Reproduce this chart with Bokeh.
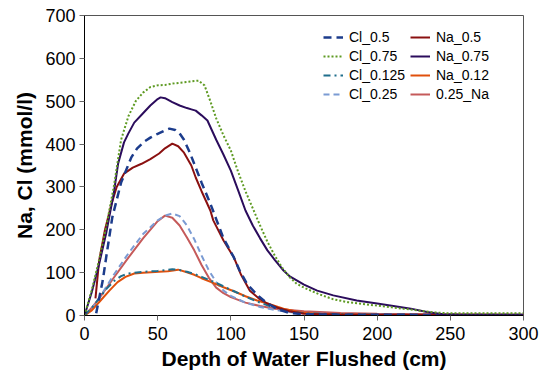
from bokeh.plotting import figure
from bokeh.models import Legend, LegendItem, FixedTicker, Range1d
from bokeh.embed import file_html
from bokeh.resources import INLINE

# ---- data ----
cl_075_x = [0, 5, 10, 15, 20, 25, 30, 35, 40, 45, 50, 55, 60, 65, 70, 75, 78, 82, 86, 90, 95, 100, 105, 110, 115, 120, 125, 130, 135, 140, 145, 150, 160, 170, 180, 190, 200, 210, 220, 230, 240, 250, 275, 300]
cl_075_y = [0, 60, 130, 210, 300, 410, 465, 500, 520, 533, 537, 538, 541, 543, 545, 547, 548, 537, 500, 460, 420, 385, 335, 290, 250, 210, 172, 140, 112, 90, 74, 65, 50, 38, 31, 27, 23, 19, 15, 11, 7, 5, 5, 5]

na_075_x = [0, 5, 10, 15, 20, 23, 27, 30, 34, 40, 45, 50, 52, 55, 60, 65, 70, 73, 76, 80, 84, 90, 95, 100, 105, 110, 115, 120, 125, 130, 136, 140, 150, 159, 170, 186, 200, 210, 223, 234, 245, 260, 300]
na_075_y = [0, 55, 120, 195, 285, 355, 404, 425, 450, 472, 490, 505, 509, 507, 498, 490, 484, 481, 478, 467, 455, 410, 375, 338, 292, 245, 210, 180, 152, 130, 105, 92, 72, 58, 47, 35, 28, 23, 16, 8, 3, 2, 2]

cl_05_x = [8, 10, 12.5, 15, 19, 25, 32, 36, 41, 45, 50, 55, 58, 62, 65, 68, 72, 76, 80, 86, 90, 95, 102, 106, 111, 118, 125, 132, 140, 150, 175, 200, 250, 300]
cl_05_y = [5, 40, 82, 140, 229, 310, 369, 390, 406, 415, 424, 432, 436, 433, 425, 410, 380, 345, 310, 261, 225, 180, 136, 105, 74, 48, 28, 15, 6, 3, 2, 2, 1, 1]

na_05_x = [7.5, 10, 14, 18.5, 22, 27, 33, 39, 45, 51, 55, 60, 64, 68, 73, 76, 80, 86, 88, 95, 102, 107, 113, 119, 125, 132, 140, 150, 175, 200, 250, 300]
na_05_y = [40, 128, 200, 261, 300, 331, 345, 354, 365, 378, 390, 401, 395, 380, 350, 322, 290, 245, 222, 175, 136, 95, 58, 40, 28, 18, 10, 4, 2, 2, 1, 1]

cl_025_x = [0, 5, 10, 20, 30, 40, 50, 55, 60, 65, 70, 75, 80, 85, 90, 95, 100, 110, 120, 130, 140, 150, 175, 200, 250, 300]
cl_025_y = [0, 15, 40, 95, 145, 190, 222, 233, 238, 232, 210, 178, 140, 105, 78, 58, 46, 30, 20, 13, 8, 5, 3, 2, 1, 1]

na_025_x = [0, 5, 10, 20, 30, 40, 50, 55, 60, 65, 70, 75, 80, 85, 90, 95, 100, 110, 120, 130, 150, 175, 200, 250, 300]
na_025_y = [0, 18, 40, 88, 135, 180, 220, 233, 228, 210, 182, 152, 118, 88, 65, 52, 43, 30, 22, 16, 10, 6, 4, 3, 2]

cl_0125_x = [0, 5, 10, 15, 20, 25, 30, 40, 50, 55, 60, 65, 70, 75, 80, 90, 100, 110, 120, 130, 140, 150, 175, 200, 250, 300]
cl_0125_y = [0, 18, 40, 62, 80, 92, 98, 102, 104, 106, 108, 106, 102, 97, 90, 76, 60, 44, 30, 18, 10, 5, 3, 2, 1, 1]

na_012_x = [0, 5, 11, 17, 22.6, 28, 34, 40, 45.5, 51, 57, 64, 70, 75, 80, 86.6, 95, 102.5, 110, 118, 125, 136, 148, 160, 200, 250, 300]
na_012_y = [0, 12, 35, 58, 78, 90, 98, 100, 101, 102, 103, 107, 101, 95, 87, 78, 66, 56, 45, 35, 28, 16, 7, 4, 2, 1, 1]

x_ticks = [0, 50, 100, 150, 200, 250, 300]
y_ticks = [0, 100, 200, 300, 400, 500, 600, 700]

FONT = "Liberation Sans"

p = figure(
    frame_width=439, frame_height=300,
    x_range=Range1d(0, 300), y_range=Range1d(0, 700),
    output_backend="svg", toolbar_location=None,
    min_border_left=84, min_border_top=15, min_border_right=16, min_border_bottom=50,
)
p.background_fill_color = "white"
p.border_fill_color = "white"
p.outline_line_color = "#555555"
p.outline_line_width = 1
p.xgrid.visible = False
p.ygrid.visible = False

for ax, ticks in ((p.xaxis[0], x_ticks), (p.yaxis[0], y_ticks)):
    ax.ticker = FixedTicker(ticks=ticks)
    ax.axis_line_color = "black"
    ax.axis_line_width = 1
    ax.major_tick_line_color = "#666666"
    ax.major_tick_out = 5
    ax.major_tick_in = 0
    ax.minor_tick_line_color = None
    ax.major_label_text_font = FONT
    ax.major_label_text_font_size = "18px"
    ax.major_label_text_color = "black"
    ax.axis_label_text_font = FONT
    ax.axis_label_text_font_size = "21px"
    ax.axis_label_text_font_style = "bold"
    ax.axis_label_text_color = "black"

p.xaxis.axis_label = "Depth of Water Flushed (cm)"
p.yaxis.axis_label = "Na, Cl (mmol/l)"
p.xaxis.major_label_standoff = 6
p.xaxis.axis_label_standoff = 4
p.yaxis.major_label_standoff = 4
p.yaxis.axis_label_standoff = 6

LW = 2
r_na_025 = p.line(na_025_x, na_025_y, line_color="#C55A5A", line_width=LW)
r_cl_025 = p.line(cl_025_x, cl_025_y, line_color="#7B9BD3", line_width=LW, line_dash="6 4")
r_na_012 = p.line(na_012_x, na_012_y, line_color="#E0500C", line_width=LW)
r_cl_0125 = p.line(cl_0125_x, cl_0125_y, line_color="#1F6E8C", line_width=LW, line_dash="7 4 2 4")
r_na_05 = p.line(na_05_x, na_05_y, line_color="#8A1010", line_width=LW)
r_cl_05 = p.line(cl_05_x, cl_05_y, line_color="#1C3C8C", line_width=LW + 0.5, line_dash="8 5")
r_na_075 = p.line(na_075_x, na_075_y, line_color="#2B0C5C", line_width=LW)
r_cl_075 = p.line(cl_075_x, cl_075_y, line_color="#5E9A22", line_width=LW, line_dash="2 2")

def make_legend(items, loc):
    lg = Legend(items=items, location=loc)
    lg.padding = 0
    lg.margin = 0
    lg.spacing = 3
    lg.border_line_color = None
    lg.background_fill_alpha = 0
    lg.label_text_font = FONT
    lg.label_text_font_size = "14px"
    lg.label_text_color = "black"
    lg.label_height = 16
    lg.glyph_height = 16
    lg.glyph_width = 20
    lg.label_standoff = 6
    return lg

leg1 = make_legend([
    LegendItem(label="Cl_0.5", renderers=[r_cl_05]),
    LegendItem(label="Cl_0.75", renderers=[r_cl_075]),
    LegendItem(label="Cl_0.125", renderers=[r_cl_0125]),
    LegendItem(label="Cl_0.25", renderers=[r_cl_025]),
], (239, 213))
leg2 = make_legend([
    LegendItem(label="Na_0.5", renderers=[r_na_05]),
    LegendItem(label="Na_0.75", renderers=[r_na_075]),
    LegendItem(label="Na_0.12", renderers=[r_na_012]),
    LegendItem(label="0.25_Na", renderers=[r_na_025]),
], (326, 213))
p.add_layout(leg1, "center")
p.add_layout(leg2, "center")

open("out.html", "w").write(file_html(p, INLINE))
